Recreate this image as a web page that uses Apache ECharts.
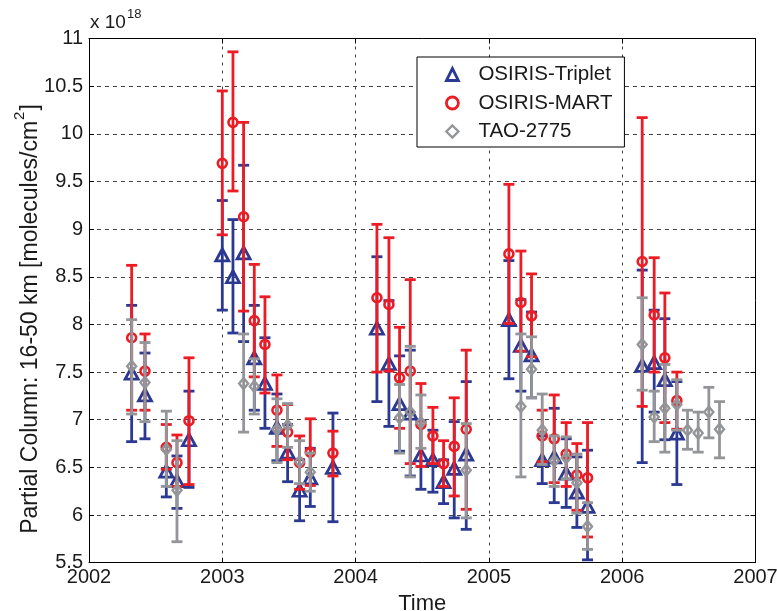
<!DOCTYPE html>
<html>
<head>
<meta charset="utf-8">
<script src="https://cdn.jsdelivr.net/npm/echarts@6/dist/echarts.min.js"></script>
<style>
html,body{margin:0;padding:0;background:#fff;}
#chart{width:777px;height:611px;}
</style>
</head>
<body>
<div id="chart"></div>
<script>
// ---- data (values in units of 1e18 molecules/cm^2) ----
const xTickLabels = ['2002', '2003', '2004', '2005', '2006', '2007'];
const yTickLabels = ['5.5', '6', '6.5', '7', '7.5', '8', '8.5', '9', '9.5', '10', '10.5', '11'];

const osirisYears = [2002.32, 2002.42, 2002.58, 2002.66, 2002.75, 2003.00, 2003.08, 2003.16, 2003.24, 2003.32, 2003.41, 2003.49, 2003.58, 2003.66, 2003.83, 2004.16, 2004.25, 2004.33, 2004.41, 2004.49, 2004.58, 2004.66, 2004.74, 2004.83, 2005.15, 2005.24, 2005.32, 2005.40, 2005.49, 2005.58, 2005.66, 2005.74, 2006.15, 2006.24, 2006.32, 2006.41];

const tripletValues = [7.49, 7.26, 6.46, 6.36, 6.79, 8.73, 8.50, 8.75, 7.65, 7.38, 6.92, 6.66, 6.26, 6.39, 6.50, 7.96, 7.59, 7.17, 7.07, 6.63, 6.58, 6.35, 6.49, 6.64, 8.05, 7.78, 7.68, 6.58, 6.61, 6.44, 6.24, 6.09, 7.57, 7.60, 7.42, 6.86];
const tripletLow = [6.77, 6.80, 6.19, 6.07, 6.29, 8.15, 7.91, 7.82, 7.10, 6.91, 6.57, 6.35, 5.94, 6.09, 5.93, 7.19, 6.93, 6.67, 6.41, 6.27, 6.24, 6.12, 5.97, 5.85, 7.43, 7.30, 7.23, 6.33, 6.13, 6.08, 5.87, 5.53, 6.55, 7.08, 6.79, 6.32];
const tripletHigh = [8.20, 7.70, 6.72, 6.62, 7.30, 9.30, 9.10, 9.67, 8.20, 7.86, 7.27, 6.95, 6.58, 6.70, 7.07, 8.71, 8.25, 7.67, 7.73, 6.99, 6.89, 6.58, 6.98, 7.40, 8.67, 8.26, 8.13, 6.83, 7.12, 6.80, 6.61, 6.68, 8.57, 8.15, 8.06, 7.40];

const martValues = [7.86, 7.51, 6.71, 6.55, 6.99, 9.69, 10.12, 9.13, 8.04, 7.79, 7.10, 6.87, 6.55, 6.66, 6.65, 8.28, 8.21, 7.44, 7.51, 6.95, 6.83, 6.54, 6.72, 6.90, 8.74, 8.23, 8.09, 6.83, 6.80, 6.64, 6.42, 6.39, 8.66, 8.10, 7.65, 7.20];
const martLow = [7.10, 7.10, 6.48, 6.30, 6.32, 8.94, 9.40, 8.14, 7.45, 7.28, 6.72, 6.58, 6.27, 6.31, 6.41, 7.50, 7.51, 6.91, 6.54, 6.51, 6.54, 6.30, 6.20, 6.06, 8.01, 7.72, 7.66, 6.56, 6.34, 6.30, 6.05, 5.77, 7.14, 7.50, 6.97, 6.90];
const martHigh = [8.62, 7.90, 6.95, 6.84, 7.65, 10.45, 10.86, 10.12, 8.63, 8.29, 7.47, 7.16, 6.83, 7.01, 6.88, 9.05, 8.91, 7.97, 8.47, 7.38, 7.13, 6.78, 7.23, 7.73, 9.47, 8.77, 8.53, 7.10, 7.26, 6.97, 6.75, 6.97, 10.17, 8.70, 8.33, 7.50];

const taoYears = [2002.32, 2002.42, 2002.58, 2002.66, 2003.16, 2003.24, 2003.41, 2003.49, 2003.58, 2003.66, 2004.33, 2004.41, 2004.49, 2004.83, 2005.24, 2005.32, 2005.40, 2005.49, 2005.58, 2005.66, 2005.74, 2006.15, 2006.24, 2006.32, 2006.41, 2006.49, 2006.57, 2006.65, 2006.73];
const taoValues = [7.56, 7.39, 6.69, 6.26, 7.38, 7.35, 6.90, 6.94, 6.56, 6.45, 7.02, 7.08, 6.97, 6.47, 7.14, 7.53, 6.89, 6.57, 6.60, 6.34, 5.88, 7.79, 7.03, 7.12, 7.16, 6.89, 6.86, 7.08, 6.90];
const taoLow = [7.06, 6.98, 6.30, 5.72, 6.87, 7.06, 6.55, 6.71, 6.33, 6.25, 6.65, 6.40, 6.70, 5.97, 6.40, 7.23, 6.53, 6.30, 6.38, 6.02, 5.64, 7.31, 6.77, 6.66, 6.89, 6.69, 6.66, 6.81, 6.60];
const taoHigh = [8.05, 7.81, 7.09, 6.78, 7.90, 7.64, 7.22, 7.17, 6.78, 6.65, 7.37, 7.77, 7.26, 6.96, 7.90, 7.87, 7.27, 6.83, 6.82, 6.64, 6.13, 8.28, 7.30, 7.58, 7.42, 7.10, 7.08, 7.34, 7.19];

// ---- styling ----
const BLUE = '#2b3992';
const RED = '#ed1c24';
const GRAY = '#939598';
const FONT = '"Liberation Sans", Arial, Helvetica, sans-serif';
const TXT = '#1a1a1a';

function errorSeries(name, years, low, high, color, z) {
  return {
    type: 'custom',
    name: name + ' err',
    z: z,
    silent: true,
    data: years.map((y, i) => [y, low[i], high[i]]),
    renderItem: function (params, api) {
      const x = api.value(0);
      const p1 = api.coord([x, api.value(1)]);
      const p2 = api.coord([x, api.value(2)]);
      const hw = 5.5;
      const st = { stroke: color, lineWidth: 2.8 };
      return {
        type: 'group',
        children: [
          { type: 'line', shape: { x1: p1[0], y1: p1[1], x2: p2[0], y2: p2[1] }, style: st },
          { type: 'line', shape: { x1: p1[0] - hw, y1: p1[1], x2: p1[0] + hw, y2: p1[1] }, style: st },
          { type: 'line', shape: { x1: p2[0] - hw, y1: p2[1], x2: p2[0] + hw, y2: p2[1] }, style: st }
        ]
      };
    }
  };
}

function markerSeries(name, years, values, symbol, size, color, bw, z) {
  return {
    type: 'scatter',
    name: name,
    z: z,
    symbol: symbol,
    symbolSize: size,
    itemStyle: { color: 'rgba(255,255,255,0)', borderColor: color, borderWidth: bw, opacity: 1 },
    emphasis: { disabled: true },
    data: years.map((y, i) => [y, values[i]])
  };
}

const chart = echarts.init(document.getElementById('chart'), null, { renderer: 'canvas' });

const axisCommon = {
  axisLine: { show: true, onZero: false, lineStyle: { color: '#000', width: 1 } },
  axisTick: { show: true, inside: true, length: 5, lineStyle: { color: '#000', width: 1 } }
};

chart.setOption({
  animation: false,
  backgroundColor: '#fff',
  textStyle: { fontFamily: FONT },
  grid: { left: 89, right: 21.5, top: 38.5, bottom: 48.3, containLabel: false, outerBoundsMode: 'none' },
  xAxis: [
    Object.assign({
      type: 'value', min: 2002, max: 2007, interval: 1,
      name: 'Time', nameLocation: 'middle', nameGap: 26,
      nameTextStyle: { fontSize: 22, color: TXT, fontFamily: FONT, verticalAlign: 'top' },
      axisLabel: { fontSize: 20, color: TXT, margin: 5, fontFamily: FONT,
        formatter: v => xTickLabels[Math.round(v - 2002)] },
      splitLine: { show: true, lineStyle: { color: '#444', width: 1, type: [3, 5] } }
    }, axisCommon),
    Object.assign({
      type: 'value', min: 2002, max: 2007, interval: 1, position: 'top',
      axisLabel: { show: false }, splitLine: { show: false }
    }, axisCommon)
  ],
  yAxis: [
    Object.assign({
      type: 'value', min: 5.5, max: 11, interval: 0.5,
      axisLabel: { fontSize: 20, color: TXT, margin: 6, fontFamily: FONT,
        formatter: v => yTickLabels[Math.round((v - 5.5) / 0.5)] },
      splitLine: { show: true, lineStyle: { color: '#444', width: 1, type: [4, 4] } }
    }, axisCommon),
    Object.assign({
      type: 'value', min: 5.5, max: 11, interval: 0.5, position: 'right',
      axisLabel: { show: false }, splitLine: { show: false }
    }, axisCommon)
  ],
  legend: {
    orient: 'vertical',
    left: 417, top: 57,
    padding: [7, 12, 5, 28],
    itemGap: 7.5,
    itemWidth: 12,
    itemHeight: 12,
    symbolKeepAspect: true,
    backgroundColor: '#fff',
    borderColor: '#000',
    borderWidth: 1,
    borderRadius: 0,
    textStyle: { fontSize: 20.5, lineHeight: 20, color: TXT, fontFamily: FONT, padding: [0, 0, 0, 15] },
    data: [
      { name: 'OSIRIS-Triplet', icon: 'triangle', itemStyle: { color: 'rgba(255,255,255,0)', borderColor: BLUE, borderWidth: 2.8 } },
      { name: 'OSIRIS-MART', icon: 'circle', itemStyle: { color: 'rgba(255,255,255,0)', borderColor: RED, borderWidth: 2.8 } },
      { name: 'TAO-2775', icon: 'diamond', itemStyle: { color: 'rgba(255,255,255,0)', borderColor: GRAY, borderWidth: 2.4 } }
    ]
  },
  graphic: [
    {
      type: 'text', left: 90, top: 8, z: 100,
      style: {
        text: '{a|x 10}{s|18}',
        rich: {
          a: { fontSize: 19, fill: TXT, fontFamily: FONT, verticalAlign: 'bottom', lineHeight: 24 },
          s: { fontSize: 13, fill: TXT, fontFamily: FONT, verticalAlign: 'top', lineHeight: 24, padding: [0, 0, 10, 1] }
        }
      }
    },
    {
      type: 'text', x: 27, y: 319, rotation: Math.PI / 2, z: 100,
      style: {
        text: '{a|Partial Column: 16-50 km [molecules/cm}{s|2}{a|]}',
        align: 'center', verticalAlign: 'middle',
        rich: {
          a: { fontSize: 23, fill: TXT, fontFamily: FONT, lineHeight: 30, verticalAlign: 'bottom' },
          s: { fontSize: 15, fill: TXT, fontFamily: FONT, lineHeight: 30, verticalAlign: 'top', padding: [0, 1, 12, 1] }
        }
      }
    }
  ],
  series: [
    errorSeries('OSIRIS-Triplet', osirisYears, tripletLow, tripletHigh, BLUE, 2),
    markerSeries('OSIRIS-Triplet', osirisYears, tripletValues, 'triangle', [13, 12], BLUE, 2.8, 3),
    errorSeries('OSIRIS-MART', osirisYears, martLow, martHigh, RED, 4),
    markerSeries('OSIRIS-MART', osirisYears, martValues, 'circle', 9, RED, 2.6, 5),
    errorSeries('TAO-2775', taoYears, taoLow, taoHigh, GRAY, 6),
    markerSeries('TAO-2775', taoYears, taoValues, 'diamond', [9, 11], GRAY, 2.4, 7)
  ]
});
</script>
</body>
</html>
